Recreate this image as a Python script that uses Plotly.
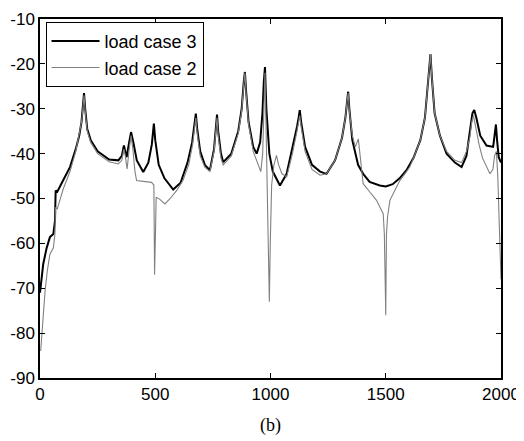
import plotly.graph_objects as go

# load case 3 (black)
x_case3 = [0, 14, 29, 43, 58, 65, 68, 75, 100, 130, 155, 170, 180, 186, 191, 196, 205, 220, 250, 300,
           340, 355, 364, 370, 376, 385, 395, 405, 420, 448, 470, 485, 494, 500, 515, 540, 578, 610, 640,
           660, 670, 676, 682, 695, 715, 737, 755, 763, 768, 773, 785, 795, 830, 860, 875, 884, 889, 894,
           905, 925, 940, 955, 965, 971, 976, 982, 995, 1010, 1041, 1070, 1095, 1115, 1122, 1127, 1133,
           1150, 1180, 1215, 1243, 1280, 1310, 1325, 1333, 1337, 1342, 1355, 1380, 1402, 1430, 1474, 1500,
           1530, 1560, 1590, 1620, 1650, 1670, 1683, 1690, 1694, 1700, 1712, 1735, 1764, 1800, 1829, 1850,
           1865, 1876, 1884, 1893, 1910, 1937, 1966, 1974, 1978, 1983, 1990, 2000]
y_case3 = [-71, -64.6, -61, -58.6, -57.9, -55, -48.2, -48.5, -46, -43, -39, -36, -33, -30, -26.5, -30,
           -34.5, -37, -39.5, -41.3, -41.5, -40.5, -38.2, -39.5, -40.8, -38, -35.2, -37.5, -41.5, -44.1,
           -42, -38, -33.3, -37, -42.5, -45.5, -48, -46.5, -42, -37.5, -34, -31.1, -34.5, -39.5, -42.5,
           -43.7, -39, -34, -31.3, -35, -40, -41.9, -40, -35, -30, -24, -21.8, -26, -33, -38.5, -40, -37.5,
           -31, -24, -20.7, -30, -40, -44, -47.1, -44.5, -39, -34, -32, -30.3, -33, -38.5, -42.5, -44,
           -44.5, -41.5, -36.5, -32, -28, -26.2, -30, -37, -42.5, -44.5, -46.3, -47.1, -47.3, -46.8, -45.5,
           -43.7, -41, -37, -32, -25, -20, -17.8, -23, -31, -36, -40, -42, -43, -40.5, -34.5, -31, -30.3,
           -32, -36, -38.2, -38.5, -35, -33.5, -37, -40.8, -42]

# load case 2 (gray)
x_case2 = [3, 8, 15, 22, 32, 43, 58, 65, 67, 75, 100, 130, 155, 170, 180, 186, 191, 196, 205, 220, 250,
           300, 340, 355, 364, 370, 378, 387, 395, 403, 412, 419, 450, 484, 494, 497, 500, 504, 520, 542,
           565, 593, 620, 645, 662, 671, 676, 682, 695, 715, 737, 755, 763, 768, 773, 785, 795, 830, 860,
           875, 884, 889, 894, 905, 925, 945, 958, 966, 972, 976, 980, 986, 991, 995, 999, 1005, 1015,
           1026, 1035, 1050, 1070, 1095, 1115, 1122, 1127, 1133, 1150, 1180, 1215, 1243, 1280, 1310, 1325,
           1333, 1337, 1342, 1355, 1368, 1375, 1381, 1390, 1402, 1430, 1460, 1480, 1489, 1494, 1500, 1503,
           1508, 1518, 1540, 1561, 1590, 1604, 1620, 1650, 1670, 1683, 1690, 1694, 1700, 1712, 1735, 1764,
           1800, 1829, 1850, 1865, 1873, 1880, 1888, 1905, 1920, 1952, 1965, 1972, 1980, 1986, 1992, 2000]
y_case2 = [-84, -80, -74, -70.6, -66, -62.4, -61, -57.8, -52, -52.3, -48, -44, -39.5, -36, -33, -30, -27,
           -30.5, -35, -37.5, -40, -41.8, -42.3, -41.5, -39, -40.5, -43.4, -39, -36, -39, -44, -46, -46.2,
           -46.4, -47, -67, -60, -49.7, -50.2, -51.2, -50, -48.2, -46, -42.5, -38, -34, -32, -35.5, -40.5,
           -43, -44, -39.5, -35, -32, -36, -41, -42.5, -40.5, -35.5, -30.5, -24.5, -22, -26.5, -33.5,
           -39.5, -42.5, -44, -40, -30, -22, -32, -50, -65, -73, -60, -47, -42.5, -40.4, -42.5, -44.5,
           -45.2, -40, -35, -33, -31.5, -34, -39.5, -43.5, -44.8, -44.5, -41.5, -36.5, -32, -28, -26.5,
           -30.5, -36, -38.5, -37.5, -36.7, -41, -46.7, -48.5, -50.4, -52.5, -53.4, -58, -76, -58, -54,
           -50.4, -48, -46, -44, -43, -41, -37, -32, -25, -20, -17.8, -23, -31, -36, -39.5, -41.5, -42,
           -39.5, -36.3, -33, -31.5, -33.5, -38, -41, -44.5, -43.5, -40.5, -39.5, -45, -55, -68]

x_ticks = [0, 500, 1000, 1500, 2000]
y_ticks = [-90, -80, -70, -60, -50, -40, -30, -20, -10]

fig = go.Figure()
fig.add_trace(go.Scatter(x=x_case3, y=y_case3, mode="lines", name="load case 3",
                         line=dict(color="black", width=2)))
fig.add_trace(go.Scatter(x=x_case2, y=y_case2, mode="lines", name="load case 2",
                         line=dict(color="#808080", width=1.1)))

axis_common = dict(showgrid=False, zeroline=False, showline=True, linecolor="black", linewidth=1.5,
                   mirror="ticks", ticks="inside", ticklen=5, tickcolor="black", tickwidth=1.2,
                   automargin=False,
                   tickfont=dict(family="Liberation Sans, Arial", size=17, color="black"))

fig.update_xaxes(range=[0, 2000], tickvals=x_ticks, ticktext=[str(v) for v in x_ticks], **axis_common)
fig.update_yaxes(range=[-90, -10], tickvals=y_ticks, ticktext=[str(v) for v in y_ticks], **axis_common)

fig.update_layout(
    width=516, height=433,
    margin=dict(l=32, r=23, t=11, b=63),
    plot_bgcolor="white", paper_bgcolor="white",
    font=dict(family="Liberation Sans, Arial", color="black"),
    legend=dict(x=0.012, y=0.992, xanchor="left", yanchor="top",
                bgcolor="white", bordercolor="black", borderwidth=1,
                font=dict(size=18, family="Liberation Sans, Arial"),
                itemwidth=48, tracegroupgap=0),
    showlegend=True,
    annotations=[dict(text="(b)", x=0.5, y=-0.131, xref="paper", yref="paper",
                      xanchor="center", yanchor="middle", showarrow=False,
                      font=dict(family="Liberation Serif, Times New Roman", size=18, color="black"))],
)

fig.write_html("out.html")
